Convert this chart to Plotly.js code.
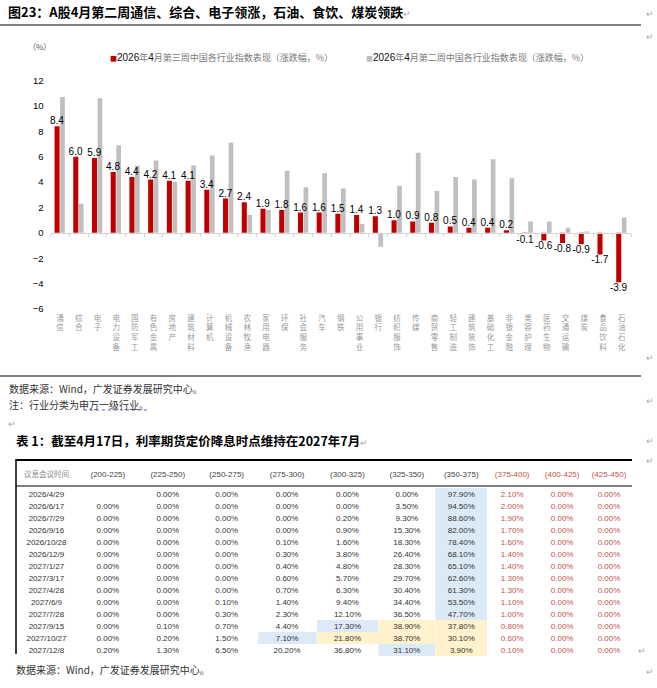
<!DOCTYPE html>
<html><head><meta charset="utf-8">
<script src="https://cdn.plot.ly/plotly-3.0.1.min.js"></script>
<style>html,body{margin:0;padding:0;background:#fff}#chart{width:657px;height:688px}</style>
</head><body><div id="chart"></div>
<script>
// ---------- chart data ----------
const industries = ['通信','综合','电子','电力设备','国防军工','有色金属','房地产','建筑材料','计算机','机械设备','农林牧渔','家用电器','环保','社会服务','汽车','钢铁','公用事业','银行','纺织服饰','传媒','商贸零售','轻工制造','建筑装饰','基础化工','非银金融','美容护理','医药生物','交通运输','煤炭','食品饮料','石油石化'];
const week3 = [8.4,6.0,5.9,4.8,4.4,4.2,4.1,4.1,3.4,2.7,2.4,1.9,1.8,1.6,1.6,1.5,1.4,1.3,1.0,0.9,0.8,0.5,0.4,0.4,0.2,-0.1,-0.6,-0.8,-0.9,-1.7,-3.9];
const week2 = [10.7,2.3,10.6,6.9,5.3,5.7,4.0,5.3,6.1,7.1,1.4,1.8,4.9,3.6,4.7,3.5,0.7,-1.1,3.7,6.3,3.3,4.4,4.2,5.8,4.3,0.9,0.9,0.4,0.1,0.0,1.2];
const yTicks = [-6,-4,-2,0,2,4,6,8,10,12];
const week3Name = '2026年4月第三周中国各行业指数表现（涨跌幅，%）';
const week2Name = '2026年4月第二周中国各行业指数表现（涨跌幅，%）';

// ---------- table data ----------
const meetings = ['2026/4/29','2026/6/17','2026/7/29','2026/9/16','2026/10/28','2026/12/9','2027/1/27','2027/3/17','2027/4/28','2027/6/9','2027/7/28','2027/9/15','2027/10/27','2027/12/8'];
const bands = ['(200-225)','(225-250)','(250-275)','(275-300)','(300-325)','(325-350)','(350-375)','(375-400)','(400-425)','(425-450)'];
const b200 = [null,0,0,0,0,0,0,0,0,0,0,0,0,0.2];
const b225 = [0,0,0,0,0,0,0,0,0,0,0,0.1,0.2,1.3];
const b250 = [0,0,0,0,0,0,0,0,0,0.1,0.3,0.7,1.5,6.5];
const b275 = [0,0,0,0,0.1,0.3,0.4,0.6,0.7,1.4,2.3,4.4,7.1,20.2];
const b300 = [0,0,0.2,0.9,1.6,3.8,4.8,5.7,6.3,9.4,12.1,17.3,21.8,36.8];
const b325 = [0,3.5,9.3,15.3,18.3,26.4,28.3,29.7,30.4,34.4,36.5,38.9,38.7,31.1];
const b350 = [97.9,94.5,88.6,82.0,78.4,68.1,65.1,62.6,61.3,53.5,47.7,37.8,30.1,3.9];
const b375 = [2.1,2.0,1.9,1.7,1.6,1.4,1.4,1.3,1.3,1.1,1.0,0.8,0.6,0.1];
const b400 = [0,0,0,0,0,0,0,0,0,0,0,0,0,0];
const b425 = [0,0,0,0,0,0,0,0,0,0,0,0,0,0];
const tableTitle = '表 1：截至4月17日，利率期货定价降息时点维持在2027年7月';

// ---------- styling ----------
const W = 657, H = 688;
const X = px => px / W, Y = py => 1 - py / H;
const CJK = 'Noto Sans CJK SC';
const LAT = 'Liberation Sans, Arial';
const RED = '#c00000', GRAY = '#bfbfbf';
const BLUE = '#dce9f6', YEL = '#fff2cc';
const TXT_RED = '#c8504a';
const CLEAR = 'rgba(0,0,0,0)';

const fmt = v => (v === null ? '' : v.toFixed(2) + '%');
const bandCols = [b200,b225,b250,b275,b300,b325,b350,b375,b400,b425];
const cellValues = [meetings].concat(bandCols.map(c => c.map(fmt)));
// highlight cells: [row, column]
const blueCells = [[11,5],[12,4],[13,6]];
const yelCells = [[11,6],[11,7],[12,5],[12,6],[12,7],[13,7]];
const fills = cellValues.map(col => col.map(() => CLEAR));
for (let r = 0; r <= 10; r++) fills[7][r] = BLUE;
blueCells.forEach(([r,c]) => fills[c][r] = BLUE);
yelCells.forEach(([r,c]) => fills[c][r] = YEL);
const colColors = cellValues.map((c,i) => i >= 8 ? TXT_RED : '#333');
const colWidths = [59,64,56,62,59,62,57,52,50,50,44];

const legendItem = (color, name) => {
  const m = name.match(/^(\d+)年(\d+)(.*)$/);
  return '<span style="color:' + color + ';font-size:7px">■</span>' +
    '<span style="font-family:Liberation Sans;font-size:10px;color:#111">' + m[1] + '</span>年' +
    '<span style="font-family:Liberation Sans;font-size:10px;color:#111">' + m[2] + '</span>' + m[3];
};

const traces = [
  {type:'bar', name:week2Name, x:industries, y:week2, marker:{color:GRAY}, offset:0.01, width:0.25, hoverinfo:'skip'},
  {type:'bar', name:week3Name, x:industries, y:week3, marker:{color:RED}, offset:-0.29, width:0.27,
   text:week3.map(v => v.toFixed(1)), textposition:'outside', constraintext:'none', cliponaxis:false,
   textfont:{family:LAT, size:10, color:'#000'}, hoverinfo:'skip'},
  {type:'scatter', x:industries, y:industries.map(() => 0), xaxis:'x2', yaxis:'y', mode:'markers',
   marker:{opacity:0}, hoverinfo:'skip', showlegend:false},
  // cell highlight layer
  {type:'table', domain:{x:[X(17), X(632)], y:[0.0, Y(468)]}, columnwidth:colWidths,
   header:{values:cellValues.map(() => ''), height:20, fill:{color:CLEAR}, line:{color:CLEAR, width:0}},
   cells:{values:cellValues.map(col => col.map(() => '')), height:12, fill:{color:fills}, line:{color:CLEAR, width:0}}},
  // text layer
  {type:'table', domain:{x:[X(17), X(632)], y:[0.02, Y(463)]}, columnwidth:colWidths,
   header:{values:['议息会议时间'].concat(bands), height:20, align:'center',
     fill:{color:CLEAR}, line:{color:CLEAR, width:0},
     font:{family:[CJK].concat(bands.map(() => LAT)), size:[7.5].concat(bands.map(() => 8)),
       color:['#888'].concat(bands.map((b,i) => i >= 7 ? TXT_RED : '#444'))}},
   cells:{values:cellValues, height:12, align:'center',
     fill:{color:CLEAR}, line:{color:CLEAR, width:0},
     font:{family:LAT, size:8, color:colColors}}}
];

const ann = (x, y, text, o) => Object.assign({xref:'paper', yref:'paper', x:X(x), y:Y(y), text:text,
  showarrow:false, xanchor:'left', yanchor:'middle', font:{family:CJK, size:10, color:'#333'}}, o || {});
const mark = '<span style="color:#aaa;font-weight:normal;font-size:9px">↵</span>';

const annotations = [
  ann(6, 11, '<b>图23：A股4月第二周通信、综合、电子领涨，石油、食饮、煤炭领跌</b>' + mark, {font:{family:CJK, size:13, color:'#000'}}),
  ann(26, 46, '（%）', {font:{family:CJK, size:8, color:'#555'}}),
  ann(108, 57, legendItem(RED, week3Name), {font:{family:CJK, size:9, color:'#777'}}),
  ann(364, 57, legendItem(GRAY, week2Name), {font:{family:CJK, size:9, color:'#777'}}),
  ann(7, 388, '数据来源：Wind，广发证券发展研究中心。'),
  ann(7, 404, '注：行业分类为申万一级行业。'),
  ann(6, 423, '↵', {font:{family:CJK, size:9, color:'#aaa'}}),
  ann(14, 440, '<b>' + tableTitle + '</b>' + mark, {font:{family:CJK, size:12.5, color:'#000'}}),
  ann(14, 669, '数据来源：Wind，广发证券发展研究中心。')
];
[13, 37, 357, 400, 440, 460, 671].forEach(py => annotations.push(ann(644, py, '↵', {font:{family:CJK, size:9, color:'#aaa'}})));
annotations.push(ann(636, 650, '↵', {font:{family:CJK, size:9, color:'#aaa'}}));

const shapes = [
  {type:'line', xref:'paper', yref:'paper', x0:0, x1:X(641), y0:Y(25), y1:Y(25), line:{color:'#000', width:1}},
  {type:'line', xref:'paper', yref:'paper', x0:0, x1:X(641), y0:Y(376), y1:Y(376), line:{color:'#000', width:1}},
  {type:'line', xref:'paper', yref:'paper', x0:X(84), x1:X(150), y0:Y(410), y1:Y(410), line:{color:'#5a5ad8', width:1, dash:'dot'}},
  {type:'line', xref:'paper', yref:'paper', x0:X(16), x1:X(632), y0:Y(460), y1:Y(460), line:{color:'#000', width:2}},
  {type:'line', xref:'paper', yref:'paper', x0:X(16), x1:X(632), y0:Y(486), y1:Y(486), line:{color:'#000', width:1}},
  {type:'line', xref:'paper', yref:'paper', x0:X(16), x1:X(16), y0:Y(459), y1:Y(654), line:{color:'#000', width:1.5}}
];

const layout = {
  width:W, height:H, margin:{l:0, r:0, t:0, b:0}, paper_bgcolor:'#fff', plot_bgcolor:'rgba(0,0,0,0)',
  showlegend:false, barmode:'overlay',
  font:{family:CJK},
  xaxis:{domain:[X(50.6), X(631)], type:'category', range:[-0.5, 30.5], anchor:'y',
    tickvals:industries, ticktext:industries.map(s => s.split('').join('<br>')), tickangle:0,
    showline:false, ticks:'', showgrid:false, zeroline:false, ticklabelstandoff:3,
    tickfont:{family:CJK, size:7.5, color:'#999'}},
  xaxis2:{overlaying:'x', type:'category', range:[-0.5, 30.5], anchor:'free', position:Y(232.7),
    showline:true, linecolor:'#d4d4d4', linewidth:1, ticks:'outside', ticklen:3, tickcolor:'#d4d4d4',
    tickson:'boundaries', showticklabels:false, showgrid:false, zeroline:false},
  yaxis:{domain:[Y(309), Y(80.5)], range:[-6, 12], tickvals:yTicks, showgrid:false, zeroline:false,
    showline:false, ticks:'', ticklabelstandoff:6, tickfont:{family:LAT, size:9.5, color:'#000'}},
  annotations:annotations, shapes:shapes
};

Plotly.newPlot('chart', traces, layout, {displayModeBar:false, staticPlot:true});
</script></body></html>
